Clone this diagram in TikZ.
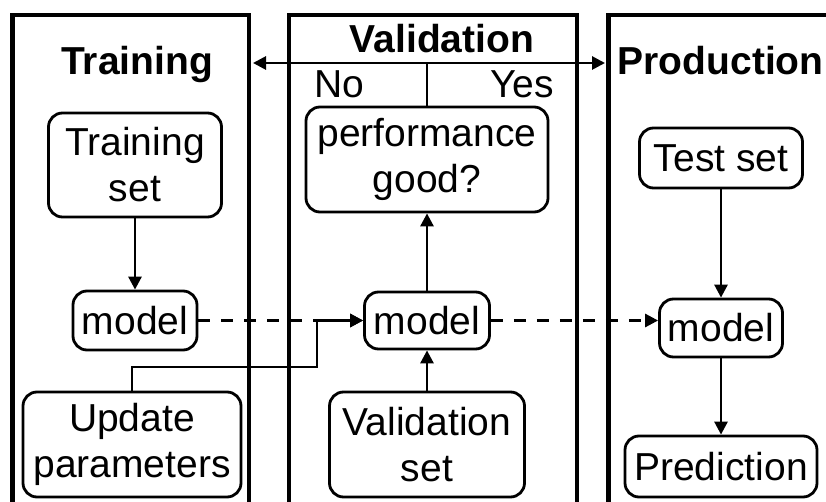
\documentclass[tikz,border=0pt]{standalone}
\usepackage{fontspec}
\setmainfont{Liberation Sans}
\usetikzlibrary{arrows.meta}

\begin{document}
\begin{tikzpicture}[x=1pt,y=-1pt]

\def\lw{2.8pt}
\def\fs{\fontsize{39}{46}\selectfont}

\tikzset{
    >={Triangle[length=13pt,width=13pt]},
    stagebox/.style={line width=4.8pt},
    stagetitle/.style={font=\fs\bfseries, inner sep=0pt, anchor=base},
    answer/.style={font=\fs, inner sep=0pt, anchor=base},
    stepnode/.style={
        draw,
        line width=\lw,
        rounded corners=14pt,
        inner sep=0pt,
        align=center,
        font=\fs
    },
    flow/.style={line width=\lw, ->},
    handover/.style={flow, dash pattern=on 12pt off 11pt}
}

\useasboundingbox (0,0) rectangle (826,502);

% Stage panels
\draw[stagebox] (12.5,502) -- (12.5,15) -- (249,15) -- (249,502);
\draw[stagebox] (289,502) -- (289,15) -- (577,15) -- (577,502);
\draw[stagebox] (608.5,502) -- (608.5,15) -- (826,15);

% Stage titles
\node[stagetitle] (ttrain) at (137,75) {Training};
\node[stagetitle] (tval) at (442,53) {Validation};
\node[stagetitle, anchor=base west] (tprod) at (617.5,75) {Production};

% Training
\node[stepnode, minimum width=173pt, minimum height=104pt] (tset) at (135,165) {Training\\set};
\node[stepnode, minimum width=124pt, minimum height=59pt] (tmodel) at (135,320.5) {model};
\node[stepnode, minimum width=218pt, minimum height=105pt] (upd) at (132,444.5) {Update\\parameters};

% Validation
\node[stepnode, minimum width=242pt, minimum height=105pt] (perf) at (427,159.5) {performance\\good?};
\node[stepnode, minimum width=125pt, minimum height=57pt] (vmodel) at (427,320.5) {model};
\node[stepnode, minimum width=195pt, minimum height=105pt] (vset) at (427,444.5) {Validation\\set};

% Production
\node[stepnode, minimum width=163pt, minimum height=60pt] (test) at (721,158) {Test set};
\node[stepnode, minimum width=123pt, minimum height=58pt] (pmodel) at (721,328) {model};
\node[stepnode, minimum width=192pt, minimum height=61pt] (pred) at (721,466.5) {Prediction};

% Decision labels
\node[answer] (no) at (339,98) {No};
\node[answer] (yes) at (522,98) {Yes};

% Decision split
\coordinate (split) at (427,63);
\coordinate (noend) at (253,63);
\coordinate (yesend) at (605,63);
\draw[line width=\lw] (perf.north) -- (split);
\draw[line width=\lw, <->] (noend) -- (yesend);

% Flow
\draw[flow] (tset) -- (tmodel);
\draw[flow] (vset) -- (vmodel);
\draw[flow] (vmodel) -- (perf);
\draw[flow] (test) -- (pmodel);
\draw[flow] (pmodel) -- (pred);

% Update path
\coordinate (bend) at (317,367);
\draw[flow] (upd.north) |- (bend) |- (vmodel.west);

% Model hand-over
\draw[handover] (tmodel.east) -- (vmodel.west);
\draw[handover] (vmodel.east) -- (vmodel.east -| pmodel.west);

\end{tikzpicture}
\end{document}
